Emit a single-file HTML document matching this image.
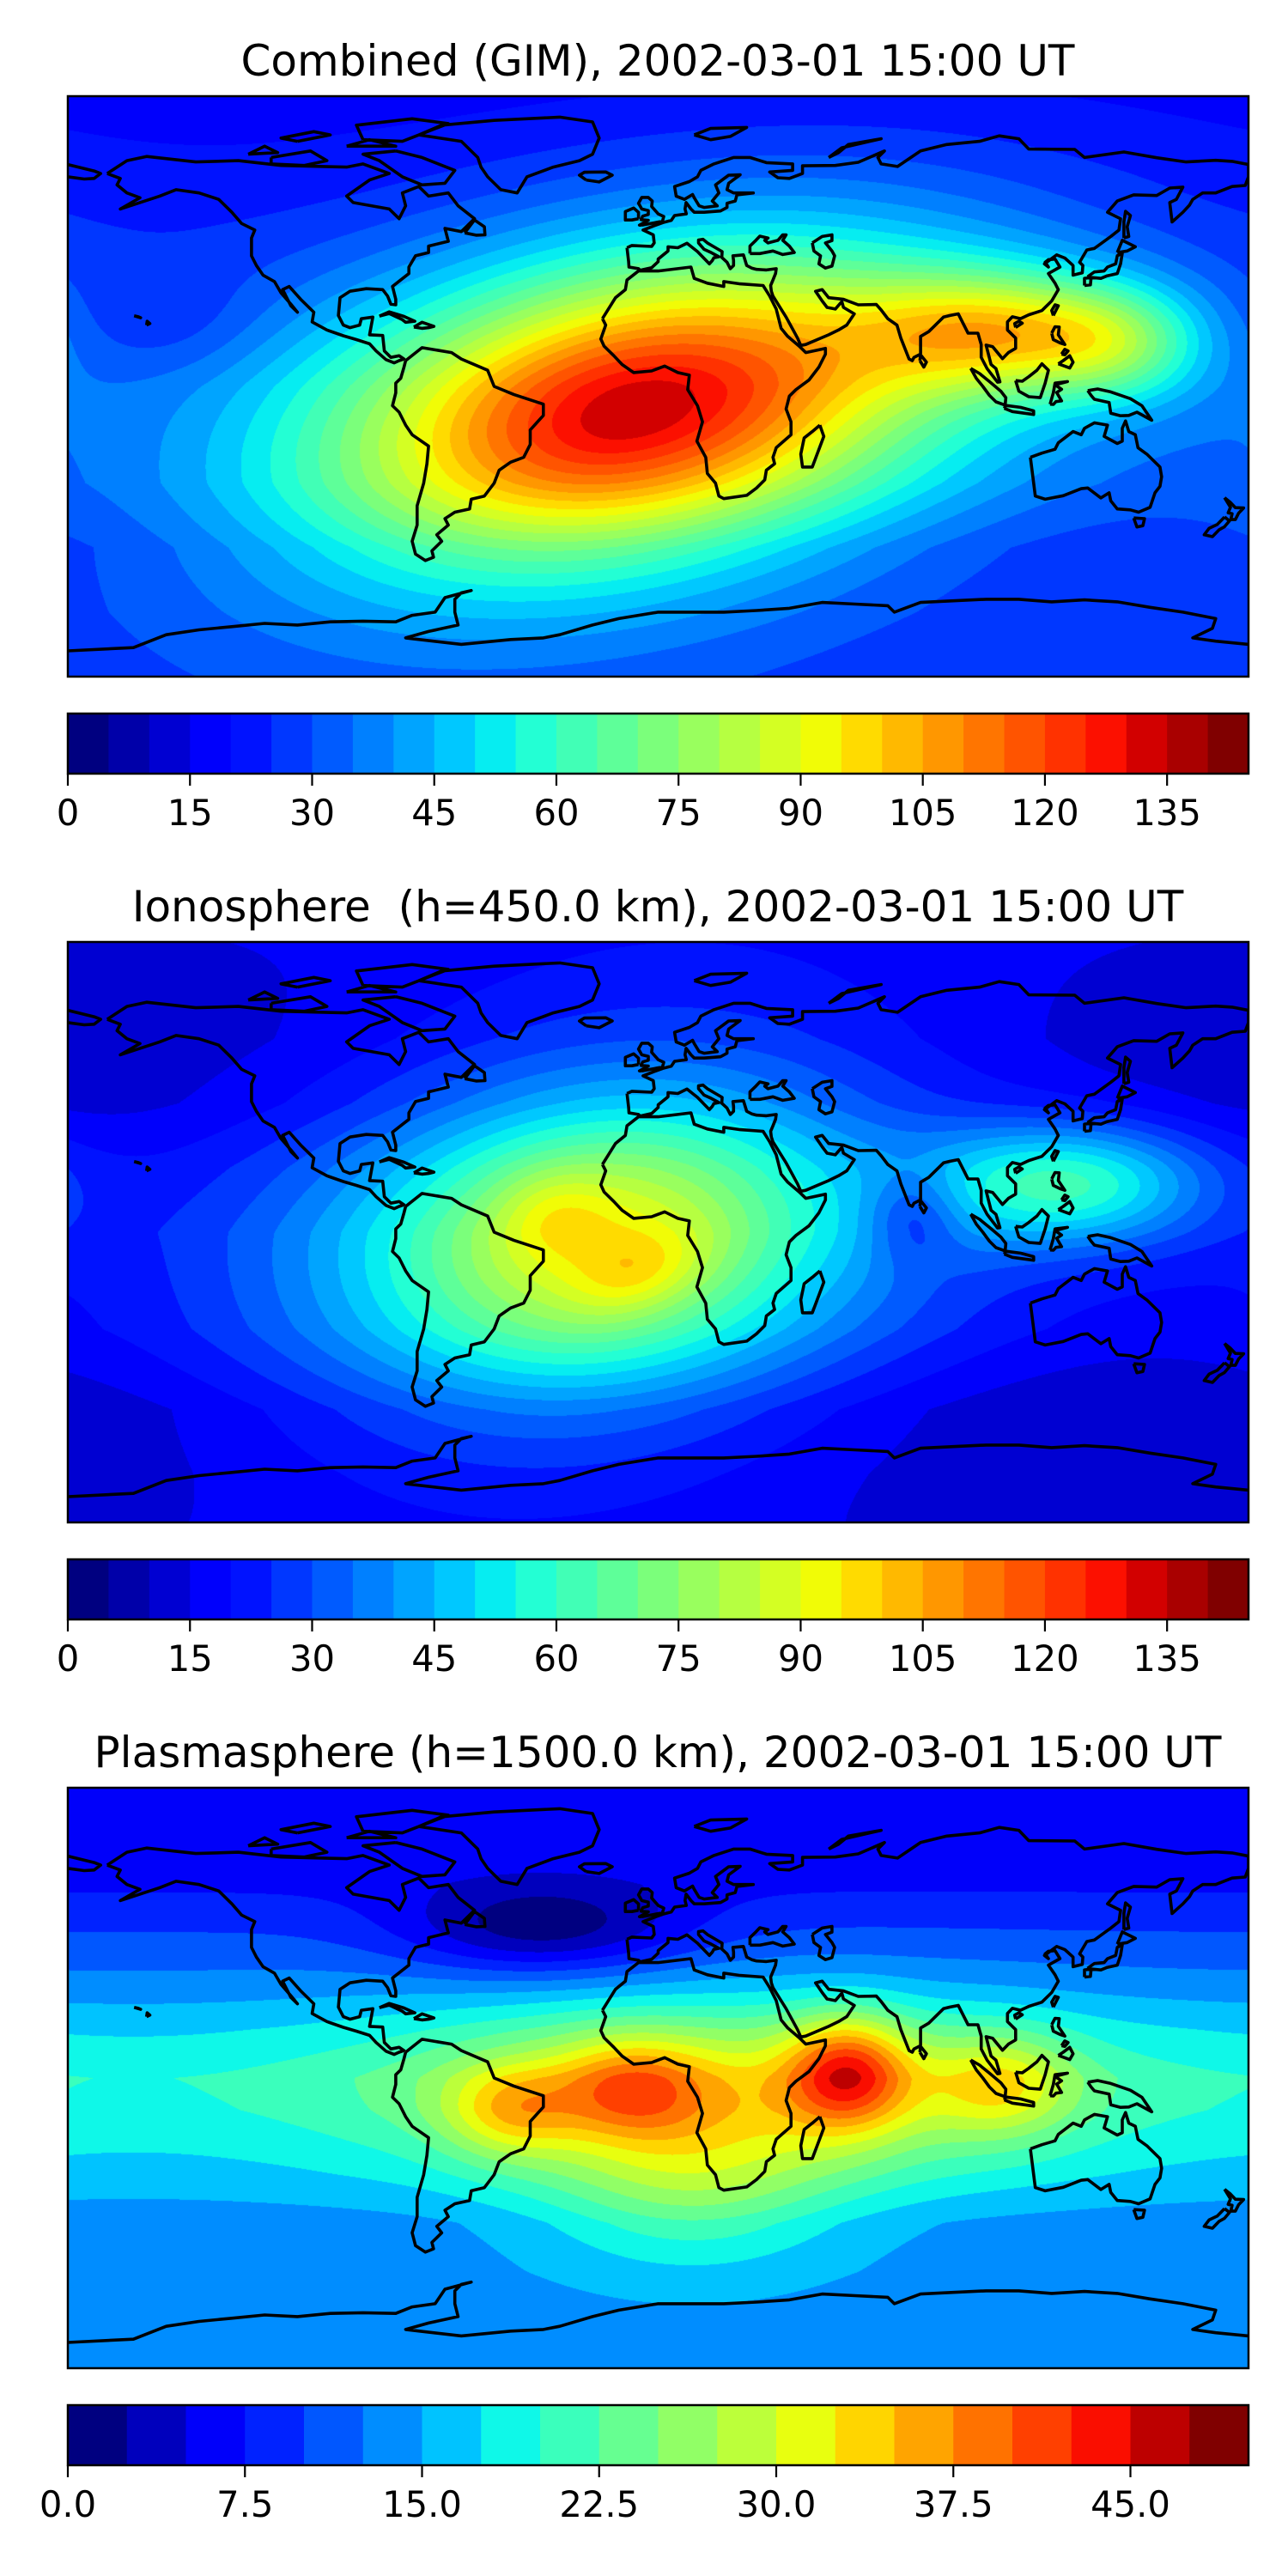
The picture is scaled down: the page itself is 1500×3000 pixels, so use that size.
<!DOCTYPE html>
<html><head><meta charset="utf-8">
<style>
html,body{margin:0;padding:0;background:#fff;}
body{width:1500px;height:3000px;position:relative;overflow:hidden;font-family:"DejaVu Sans","Liberation Sans",sans-serif;}
canvas{position:absolute;left:79px;}
#ov{position:absolute;left:0;top:0;}
</style></head>
<body>
<canvas id="c0" width="1375" height="676" style="top:112px"></canvas>
<canvas id="c1" width="1375" height="676" style="top:1097px"></canvas>
<canvas id="c2" width="1375" height="676" style="top:2082px"></canvas>
<svg id="ov" width="1500" height="3000" xmlns="http://www.w3.org/2000/svg">
<text x="766" y="88" font-size="50" text-anchor="middle" font-family="DejaVu Sans, Liberation Sans, sans-serif">Combined (GIM), 2002-03-01 15:00 UT</text>
<text x="766" y="1073" font-size="50" text-anchor="middle" xml:space="preserve" font-family="DejaVu Sans, Liberation Sans, sans-serif">Ionosphere  (h=450.0 km), 2002-03-01 15:00 UT</text>
<text x="766" y="2058" font-size="50" text-anchor="middle" font-family="DejaVu Sans, Liberation Sans, sans-serif">Plasmasphere (h=1500.0 km), 2002-03-01 15:00 UT</text>
<defs><clipPath id="mapclip"><rect x="0" y="0" width="1375" height="676"/></clipPath></defs>
</svg>
<script>
// ---- data arrays ----
// Combined (GIM) field: latitude background profile + blobs
const gimProfLat=[-90,-70,-50,-30,0,30,60,90];
const gimProfVal=[25,24,22,26,27,24,20,17];
const gimLon=[-6,-6,-10,105,140,-150];
const gimLat=[-7,-7,-11,17,13,20];
const gimAmp=[64,42,2,48,25,-6];
const gimSx=[60,88,14,30,18,20];
const gimSy=[28,42,7,13,12,12];
const gimRot=[12,12,20,0,0,0];
// Ionosphere field
const ionoProfLat=[-90,-75,-55,-30,0,20,40,60,90];
const ionoProfVal=[12,10,8,14,16,14,10,10,14];
const ionoLon=[-18,-18,-6,-32,125,78];
const ionoLat=[-3,-3,-13,6,15,5];
const ionoAmp=[45,32,12,9,40,-15];
const ionoSx=[75,40,14,12,30,10];
const ionoSy=[45,26,8,10,13,10];
const ionoRot=[10,10,20,0,0,0];
// Plasmasphere field
const plasProfLat=[-90,-75,-60,-45,-30,-10,0,15,30,45,60,90];
const plasProfVal=[13.5,14,14,13.5,16,18.5,19,16.5,13,10,7,6];
const plasLon=[-35,58,20,-8,-45,105,10];
const plasLat=[46,2,-5,-3,-10,-2,-35];
const plasAmp=[-9,16,13,10,9,9,8];
const plasSx=[30,13,70,16,14,15,32];
const plasSy=[10,12,20,11,10,11,17];
const plasRot=[0,0,0,0,0,0,0];
// colorbar ticks
const ticksA=[0,15,30,45,60,75,90,105,120,135];
const ticksB=[0,7.5,15,22.5,30,37.5,45];
const tickLabelsB=["0.0","7.5","15.0","22.5","30.0","37.5","45.0"];

// coastlines [lon,lat]
const coasts=[
[[-168,66],[-162,70],[-156,71.3],[-141,69.6],[-128,70],[-115,68.5],[-95,68],[-90,69],[-82,66],[-88,64],[-95,59],[-93,57],[-82,55],[-79,52],[-77,56],[-78,60],[-73,62],[-70,59],[-64,60],[-61,56],[-56,52],[-60,48],[-65,49],[-64,45],[-70,43.5],[-70,41.5],[-74,40.5],[-76,37],[-76,35],[-81,31],[-80,27],[-80,25.3],[-81.5,25.5],[-82.5,28],[-84,30],[-89,30.3],[-94,29.5],[-97,27.5],[-97.5,22],[-96,19],[-94,18.2],[-91,19],[-90.5,21],[-87,21.5],[-88,16],[-84,15.8],[-83.5,11],[-81.5,9],[-79,9.5],[-77.5,8.5],[-79,8],[-80.5,7.3],[-83,8.3],[-86,11],[-88,13.2],[-92,14.5],[-96,15.7],[-101,17.5],[-105.5,20],[-105,23],[-109,27],[-112.5,31],[-114.5,30],[-112,25],[-110,23],[-112,25.5],[-115,29],[-117,32.5],[-120.5,34.5],[-122.5,37.5],[-124,40.5],[-124,46],[-123,48.5],[-127,50.5],[-130,54],[-134,58],[-140,60],[-147,61],[-152,59],[-158,57],[-164,55],[-158,58.5],[-162,60],[-165,62.5],[-164,64.5],[-168,66]],
[[-73,78],[-66,81],[-50,82.5],[-30,83.5],[-20,82],[-18,77],[-20,72],[-24,70],[-32,68],[-40,65],[-43,60],[-48,61],[-52,65],[-54,68],[-55,71],[-60,76],[-73,78]],
[[-80,73],[-72,71],[-62,67],[-65,63],[-72,62.5],[-78,65],[-85,70],[-90,72],[-80,73]],
[[-118,71],[-106,73],[-101,70],[-108,68.5],[-118,69],[-118,71]],
[[-90,76.5],[-78,76],[-64,81.5],[-75,83],[-92,81],[-90,76.5]],
[[-95,74.5],[-80,74.5],[-88,76.5],[-95,74.5]],
[[-125,72],[-120,74.5],[-116,72.5],[-125,72]],
[[-110,76],[-100,78],[-105,79],[-115,77],[-110,76]],
[[-77,8],[-72,12],[-63,10.5],[-60,8.5],[-52,5],[-50,0],[-44,-2.5],[-35,-5.5],[-35,-9],[-39,-13.5],[-39,-18],[-41,-22],[-45,-23.5],[-48.5,-26],[-50,-30],[-53,-34],[-57,-35],[-57.5,-38],[-62,-39],[-65,-41],[-64,-43],[-67.5,-46],[-66,-48],[-69,-51],[-68.5,-53],[-71,-54],[-74,-52],[-75,-48],[-73.5,-43],[-73.5,-37],[-71.5,-30],[-70.5,-24],[-70,-18.5],[-75,-15],[-77,-12],[-79,-8],[-81,-6],[-80,-2],[-80,1],[-78.5,2.5],[-77.5,6],[-77,8]],
[[-17,21],[-13,27.5],[-10,30],[-9.5,33],[-6,35.8],[0,35.8],[10,37],[11,33.5],[15,32],[20,31],[20,32.5],[25,31.8],[32,31.3],[34,28],[36,24],[37.5,18],[39.5,15.5],[43,12.5],[45,10.5],[51,11.8],[51,10],[49,6],[46,2],[42,-1],[40,-3],[39,-7],[40.5,-11],[40.5,-15],[36,-19],[35,-22],[35.5,-24],[33,-26],[32.5,-29],[30,-31.5],[27,-33.8],[20,-34.8],[18.5,-34],[17.5,-30],[15,-27],[14.5,-22],[11.8,-17],[13.5,-11],[12,-6],[9,-1],[9.5,3.5],[6,4.3],[2,6.3],[-2,4.8],[-7.5,4.3],[-11,6.8],[-13.5,9.5],[-16.5,12.5],[-17.5,14.7],[-16,19],[-17,21]],
[[49.3,-12],[50.5,-15.5],[47,-25],[44,-25],[43.5,-21],[44.5,-16],[47,-14],[49.3,-12]],
[[-9.5,43],[-9,38.7],[-8.9,37],[-6,36.5],[-5.5,36],[-2,36.8],[0,38.7],[0,39.5],[3,42],[3,43.3],[6,43],[8.8,44.4],[10.5,43],[12,41.8],[15.6,38],[16.5,39],[17,39.9],[18.5,40.2],[16,41.6],[14,42.5],[12.3,44.5],[12.3,45.4],[13.7,45.6],[15,44.5],[17.5,43],[19.5,41.8],[19.4,40],[21,38.5],[22,36.5],[23,37.5],[23,39],[22.8,40.5],[26,40.8],[27,37.5],[28.5,36.7],[30,36.3],[33,36.1],[36,36.5],[35.8,35],[35,33],[34.3,31.3],[34.5,29.5],[35,28],[39,21.5],[42.5,15],[43.5,12.7],[45,13],[52,16],[55,17.5],[57.5,19],[59.8,22.5],[56.5,24.5],[56,26.3],[54,24],[51.5,24.5],[50,26.5],[48,29.5],[50,30],[52,27.5],[56.5,27],[61,25.3],[66.5,25.4],[68,23.7],[70,21],[72.8,19],[74,15],[76.5,8.5],[77.5,8],[78,9],[80,10],[80,15.5],[82.5,17],[87,21.5],[89,22],[91.5,22.5],[92.5,20.5],[94.5,16.5],[97.5,16.5],[98.5,13],[98.5,9],[100.3,5.5],[103.5,1.3],[104.2,1.4],[103,5.5],[101.5,6.8],[100,12.8],[102,12.3],[105,8.6],[106.8,10.5],[109,11.8],[109,15],[106.5,17.5],[106.5,20],[108,21.6],[110.5,21],[113,22.2],[117,23.5],[120,26.5],[122,30],[121,32],[119,35],[122.5,37],[121,39.5],[119,39.3],[118,38.5],[119,37],[117.8,38],[121.5,40.8],[124,39.8],[126.5,37.5],[126.5,34.5],[129.3,35.2],[129.5,37.5],[128.5,38.5],[130.7,42.3],[133,42.8],[138,46.5],[140.5,48.5],[141,52],[137,54],[140,57.5],[145,59.4],[152,59.2],[156,61.5],[160,61.8],[158,58],[156,57],[156.7,51],[160,54],[162,56.2],[163,58],[166,60],[170,60],[175,62],[179,62.3],[180,65],[180,68.8],[175,69.8],[170,70.1],[161,69.6],[152,70.9],[142,72.7],[130,71],[127,73.5],[113,73.6],[110,76.8],[104,77.7],[98,76],[88,75],[80,73],[73,68.2],[68,69],[67,71],[69,73],[61,69.5],[54,68.5],[44,68.4],[44,66],[40,64.5],[36.5,64.7],[34,66.5],[41,67],[41,69],[33,69.4],[28,71],[23,71],[17,69],[13,67],[12,65],[9.5,63.5],[5,62],[5.5,59],[8,58],[10.5,59.5],[11,58.5],[12.5,56],[14,55.5],[18,56],[16.5,57.5],[18.5,60],[17.5,62.5],[21.5,65.5],[25,65.6],[21.5,63],[21,61],[23,60],[29,60],[24,59.4],[23.5,57.5],[21,56.8],[21,55.5],[19,54.4],[14,54],[11,54],[10,55],[8.5,57],[8.2,55],[8.6,53.5],[5,53],[4,51.5],[1.5,50.8],[-1.5,49.7],[-4.6,48.5],[-1.5,47],[-1.2,44.5],[-2,43.4],[-8,43.7],[-9.5,43]],
[[28,41.2],[28,43.5],[29.8,45.3],[31,46.6],[33.5,46],[32.5,45.3],[33.5,44.5],[36.5,45.3],[38,47],[39,47],[38,45.3],[40,43.5],[41.5,41.5],[38,40.9],[35,42],[31,41.2],[28,41.2]],
[[47,44.5],[50,46.5],[53,47],[53,45.2],[51,44.5],[53,42],[53.8,40.5],[53,37.3],[51,36.7],[49,38],[49.5,40.5],[47.5,42],[47,44.5]],
[[-180,65],[-175,64.3],[-172,64.5],[-170,66],[-172,66.8],[-180,68.8]],
[[130.9,34],[132,33.8],[135,33.5],[136.9,34.3],[140,35],[141,38],[141.5,41.3],[140,40.5],[139.5,38],[137,37],[136,35.8],[133,35.5],[130.9,34]],
[[140,41.5],[141.5,45.3],[145.5,43.3],[143,42],[140,41.5]],
[[130,31.3],[131.8,31.5],[132,33.8],[130,33.5],[130,31.3]],
[[142,46],[143.5,46.5],[143,49.5],[144,53],[142.5,54.3],[142,51],[142,46]],
[[120.5,22],[122,25],[121,25.3],[120,23.5],[120.5,22]],
[[109,18.3],[111,19.6],[110,20.2],[108.7,19.5],[109,18.3]],
[[120,16.5],[121,18.5],[122.3,18.4],[122,16],[124,13],[122.5,13.5],[120.5,14.5],[120,16.5]],
[[122,7],[125.5,5.7],[126.5,7.5],[125.5,9.5],[123.5,8],[122,7]],
[[123,10],[124,11.5],[125,11],[124,9.8],[123,10]],
[[109,1.8],[110,-1.5],[113,-3.2],[116.5,-3.5],[118,1],[119,5],[117,7],[115.5,5],[113,3],[111,1.6],[109,1.8]],
[[95.3,5.6],[98,4],[101,1.5],[104.5,-1.5],[106,-3.5],[105.8,-5.8],[103,-4.8],[101,-2.8],[99,0],[97,2.5],[95.3,5.6]],
[[105.5,-6.8],[108,-7.8],[114.5,-8.7],[114.5,-7.6],[110.5,-6.5],[106,-5.9],[105.5,-6.8]],
[[119.5,-5.5],[120.5,-2],[121,1],[124.8,1.5],[121,0.5],[123,-0.9],[121.5,-1.9],[123,-4.5],[121.3,-4.7],[120.5,-5.6],[119.5,-5.5]],
[[131,-1.3],[134,-0.8],[138,-1.7],[144,-3.8],[147.5,-6],[150.5,-10.5],[146,-8],[143.5,-9],[141,-9.1],[138,-8.3],[137.5,-5],[133,-4],[132,-2.8],[131,-1.3]],
[[113.5,-22],[114,-26],[115,-34],[118,-35],[123.5,-33.9],[129,-31.7],[131,-31.5],[135,-34.6],[137.5,-33],[138,-35.5],[140,-38],[144,-38.3],[146.5,-39],[150,-37.5],[151.5,-33],[153,-31],[153.5,-28],[153,-25],[149,-21],[146.3,-19],[145.5,-15],[143.5,-14],[142.5,-10.7],[141.5,-13],[141.5,-17],[140,-17.7],[136,-15.5],[137,-12],[133,-11.3],[130,-13],[129,-15],[126.5,-14],[122,-17.5],[121,-19.5],[117,-20.7],[113.5,-22]],
[[145,-40.8],[148.3,-41],[147.8,-43.2],[146,-43.6],[145,-40.8]],
[[172.7,-34.5],[174.5,-36],[176,-37.6],[178.5,-37.7],[177,-39.3],[176,-41.3],[174.6,-41.3],[175,-39.5],[173.8,-39.2],[174.5,-37.5],[172.7,-34.5]],
[[172.7,-40.5],[174.2,-41.7],[172.7,-43.5],[171,-44.5],[169,-46.6],[166.5,-46],[168,-44],[170.5,-42.8],[172.7,-40.5]],
[[79.8,8],[81,6],[81.8,7.5],[80,9.8],[79.8,8]],
[[-5,50],[1.3,51.2],[1.7,52.7],[0,53.5],[-2,55.8],[-1.8,57.5],[-3,58.6],[-5,58.6],[-6,56.8],[-5,55],[-3,54.5],[-3,53.3],[-4.7,52.8],[-5.2,51.7],[-3,51.5],[-5.7,50],[-5,50]],
[[-6,52],[-6,54],[-7.5,55.3],[-10,54.2],[-10,51.6],[-8,51.6],[-6,52]],
[[-22,64],[-24,65.5],[-22.5,66.4],[-16,66.5],[-14,65.5],[-18,63.4],[-22,64]],
[[-85,21.8],[-82,23.1],[-77.5,21.7],[-74.2,20.2],[-77,19.9],[-78,20.7],[-82,22.6],[-85,21.8]],
[[-74.5,18.4],[-72,19.9],[-68.4,18.6],[-70,18.2],[-72,18],[-74.5,18.4]],
[[-59,47.6],[-56,51.6],[-53,49.5],[-52.8,47],[-55.5,46.9],[-59,47.6]],
[[11,78],[16,80],[27,80.3],[22,77.5],[16,76.5],[11,78]],
[[52,71],[56,74],[68,76.8],[58,75],[55,72.5],[52,71]],
[[-156,19],[-155,19.5],[-155.8,20.2],[-156,19]],
[[-159.8,21.9],[-157.8,21.3],[-158.5,21.6],[-159.8,21.9]],
[[-180,-82],[-160,-81],[-150,-77],[-140,-75.5],[-130,-74.5],[-120,-73.5],[-110,-74],[-100,-73],[-90,-72.8],[-80,-73],[-75,-71],[-68,-70],[-65,-65.5],[-57,-63.3],[-60,-64],[-62,-66],[-62,-70],[-61,-74],[-70,-76],[-77,-78],[-60,-80],[-45,-78.5],[-35,-78],[-30,-77],[-20,-74],[-12,-72],[0,-70],[10,-70],[20,-70],[30,-69.5],[40,-68.8],[50,-67],[60,-67.5],[70,-68],[72,-70],[80,-67],[90,-66.5],[100,-66],[110,-66],[120,-66.8],[130,-66.2],[140,-66.8],[150,-68.5],[160,-70],[165,-71],[170,-72],[169,-75],[163,-78],[170,-79],[180,-80]]
];

// ---- scales ----
const MW=1375, MH=676;
function xScale(lon){return (lon+180)/360*MW;}
function yScale(lat){return (90-lat)/180*MH;}

// jet colormap
const jR=[[0,0],[0.35,0],[0.66,1],[0.89,1],[1,0.5]];
const jG=[[0,0],[0.125,0],[0.375,1],[0.64,1],[0.91,0],[1,0]];
const jB=[[0,0.5],[0.11,1],[0.34,1],[0.65,0],[1,0]];
function seg(s,t){for(let i=1;i<s.length;i++){if(t<=s[i][0]){const a=s[i-1],b=s[i];return a[1]+(b[1]-a[1])*(t-a[0])/(b[0]-a[0]);}}return s[s.length-1][1];}
function jet(t){return [Math.round(255*seg(jR,t)),Math.round(255*seg(jG,t)),Math.round(255*seg(jB,t))];}
function rgb(c){return 'rgb('+c[0]+','+c[1]+','+c[2]+')';}

function interp(xs,ys,x){if(x<=xs[0])return ys[0];for(let i=1;i<xs.length;i++){if(x<=xs[i]){return ys[i-1]+(ys[i]-ys[i-1])*(x-xs[i-1])/(xs[i]-xs[i-1]);}}return ys[ys.length-1];}

function renderField(id,pLat,pVal,bLon,bLat,bAmp,bSx,bSy,bRot,step,nb){
  const cv=document.getElementById(id), ctx=cv.getContext('2d');
  const img=ctx.createImageData(MW,MH), d=img.data;
  const pal=[];for(let k=0;k<nb;k++)pal.push(jet(k/(nb-1)));
  const cs=bRot.map(r=>Math.cos(r*Math.PI/180)), sn=bRot.map(r=>Math.sin(r*Math.PI/180));
  for(let j=0;j<MH;j++){
    const lat=90-(j+0.5)/MH*180;
    const base=interp(pLat,pVal,lat);
    for(let i=0;i<MW;i++){
      const lon=-180+(i+0.5)/MW*360;
      let v=base;
      for(let k=0;k<bLon.length;k++){
        const dp=lat-bLat[k];
        let dl0=lon-bLon[k]; if(dl0>180)dl0-=360; if(dl0<-180)dl0+=360;
        const alt=dl0>0?dl0-360:dl0+360;
        for(const dl of [dl0,alt]){
          const u=dl*cs[k]+dp*sn[k], w=-dl*sn[k]+dp*cs[k];
          v+=bAmp[k]*Math.exp(-0.5*(u*u/(bSx[k]*bSx[k])+w*w/(bSy[k]*bSy[k])));
        }
      }
      let idx=Math.floor(v/step); if(idx<0)idx=0; if(idx>nb-1)idx=nb-1;
      const c=pal[idx], o=(j*MW+i)*4;
      d[o]=c[0];d[o+1]=c[1];d[o+2]=c[2];d[o+3]=255;
    }
  }
  ctx.putImageData(img,0,0);
}
renderField('c0',gimProfLat,gimProfVal,gimLon,gimLat,gimAmp,gimSx,gimSy,gimRot,5,29);
renderField('c1',ionoProfLat,ionoProfVal,ionoLon,ionoLat,ionoAmp,ionoSx,ionoSy,ionoRot,5,29);
renderField('c2',plasProfLat,plasProfVal,plasLon,plasLat,plasAmp,plasSx,plasSy,plasRot,2.5,20);

const NS='http://www.w3.org/2000/svg';
const svg=document.getElementById('ov');
function mk(tag,attrs){const e=document.createElementNS(NS,tag);for(const k in attrs)e.setAttribute(k,attrs[k]);return e;}
const coastD=coasts.map(poly=>poly.map((p,i)=>(i?'L':'M')+xScale(p[0]).toFixed(1)+' '+yScale(p[1]).toFixed(1)).join('')).join('');
const panelNames=['combined','ionosphere','plasmasphere'];
const tops=[112,1097,2082];
tops.forEach((t,pi)=>{
  const g=mk('g',{transform:'translate(79,'+t+')'});
  
  
  const cp=mk('path',{d:coastD,fill:'none',stroke:'#000','stroke-width':3.6,'stroke-linejoin':'round','clip-path':'url(#mapclip)'});
  
  
  g.appendChild(cp);
  const fr=mk('rect',{x:0,y:0,width:MW,height:MH,fill:'none',stroke:'#000','stroke-width':2.5});
  
  
  g.appendChild(fr);
  svg.appendChild(g);
});

// colorbars
const cbTops=[831,1816,2801];
const cbMax=[145,145,50], cbStep=[5,5,2.5];
cbTops.forEach((t,pi)=>{
  const g=mk('g',{transform:'translate(79,'+t+')'});
  
  
  const nb=Math.round(cbMax[pi]/cbStep[pi]);
  const cx=v=>v/cbMax[pi]*MW;
  for(let k=0;k<nb;k++){
    const r=mk('rect',{x:cx(k*cbStep[pi]).toFixed(2),y:0,width:(cx(cbStep[pi])+0.6).toFixed(2),height:70,fill:rgb(jet(k/(nb-1)))});
    
    
    g.appendChild(r);
  }
  const fr=mk('rect',{x:0,y:0,width:MW,height:70,fill:'none',stroke:'#000','stroke-width':2.5});
  
  
  g.appendChild(fr);
  const ticks=pi<2?ticksA:ticksB;
  ticks.forEach((v,ti)=>{
    const x=cx(v);
    const tl=mk('line',{x1:x,x2:x,y1:70,y2:84,stroke:'#000','stroke-width':2.2});
    
    
    g.appendChild(tl);
    const tx=mk('text',{x:x,y:130,'font-size':41.7,'text-anchor':'middle','font-family':'DejaVu Sans, Liberation Sans, sans-serif'});
    tx.textContent=pi<2?String(v):tickLabelsB[ti];
    
    
    g.appendChild(tx);
  });
  svg.appendChild(g);
});
</script>
</body></html>
